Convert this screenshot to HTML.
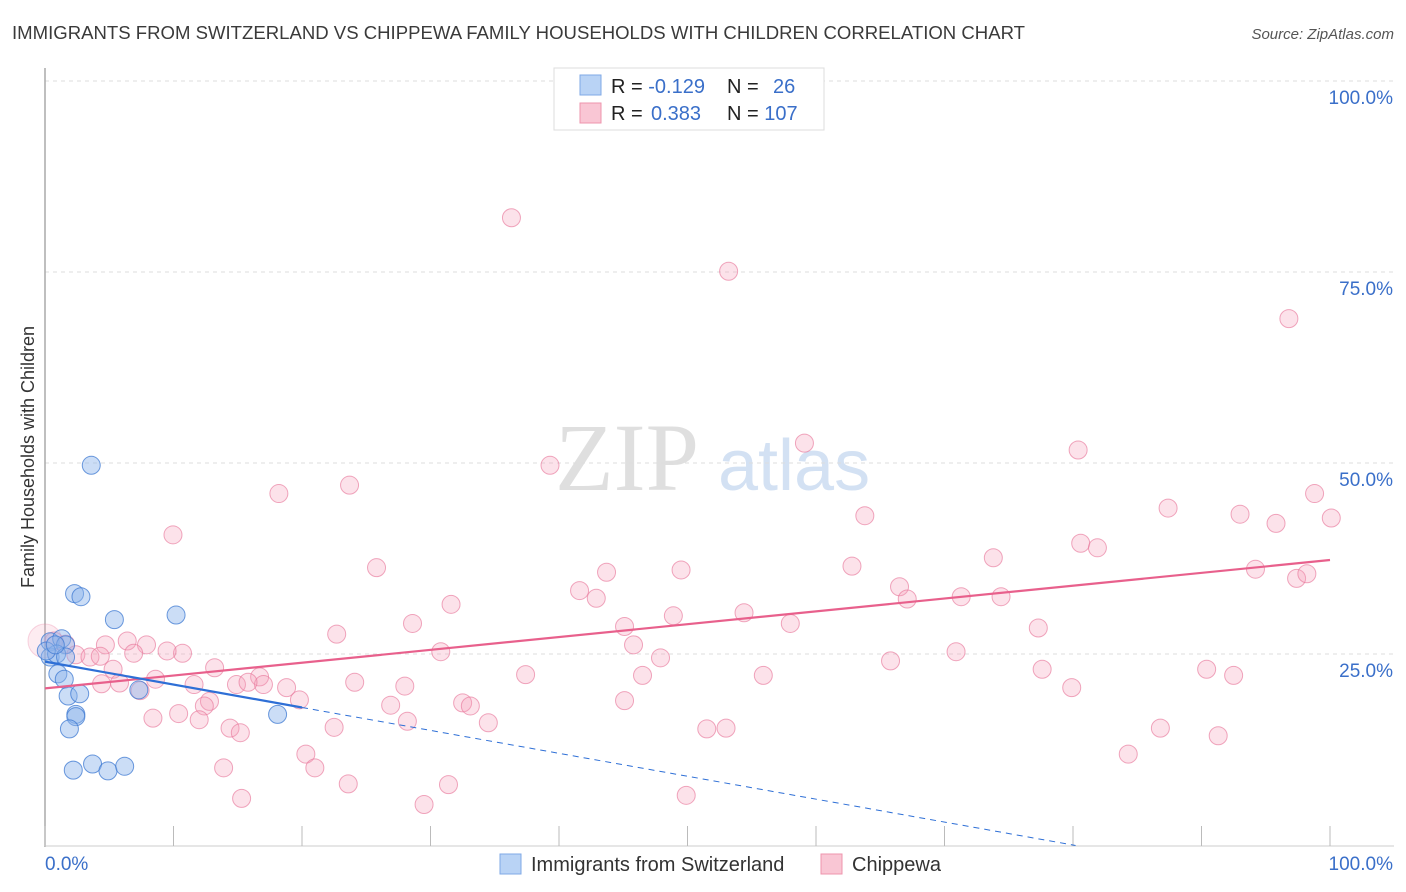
<!DOCTYPE html>
<html><head><meta charset="utf-8"><style>
body{margin:0;background:#fff;font-family:"Liberation Sans",sans-serif;}
svg{display:block}
</style></head><body>
<svg id="chart" width="1406" height="892" xmlns="http://www.w3.org/2000/svg" font-family="Liberation Sans, sans-serif">
<text x="12" y="39" font-size="18" fill="#3a3a3a" textLength="1013" lengthAdjust="spacingAndGlyphs">IMMIGRANTS FROM SWITZERLAND VS CHIPPEWA FAMILY HOUSEHOLDS WITH CHILDREN CORRELATION CHART</text>
<text x="1394" y="39" font-size="15" fill="#555" font-style="italic" text-anchor="end">Source: ZipAtlas.com</text>
<g opacity="0.5">
<text x="555" y="490" font-size="96" font-family="Liberation Serif, serif" fill="#c0c0c0">ZIP</text>
<text x="718" y="490" font-size="72" fill="#a9c4e8">atlas</text>
</g>
<g id="grid"></g>
<g id="axes"></g>
<g id="pts"></g>
<g id="trends"></g>
<g>
<rect x="554" y="68" width="270" height="62" fill="#fff" stroke="#ddd"/>
<rect x="580" y="75" width="21" height="20" fill="#b9d3f5" stroke="#7fa8e6"/>
<rect x="580" y="103" width="21" height="20" fill="#f9c6d4" stroke="#ee94ad"/>
<text x="611" y="93" font-size="20" fill="#222">R = <tspan fill="#3a6fc9">-0.129</tspan></text>
<text x="727" y="93" font-size="20" fill="#222">N = <tspan fill="#3a6fc9" x="773">26</tspan></text>
<text x="611" y="120" font-size="20" fill="#222">R = <tspan fill="#3a6fc9" x="651">0.383</tspan></text>
<text x="727" y="120" font-size="20" fill="#222">N = <tspan fill="#3a6fc9">107</tspan></text>
</g>
<g>
<rect x="500" y="854" width="21" height="20" fill="#b9d3f5" stroke="#7fa8e6"/>
<text x="531" y="871" font-size="20" fill="#333">Immigrants from Switzerland</text>
<rect x="821" y="854" width="21" height="20" fill="#f9c6d4" stroke="#ee94ad"/>
<text x="852" y="871" font-size="20" fill="#333">Chippewa</text>
</g>
<text transform="translate(34,457) rotate(-90)" font-size="18" fill="#333" text-anchor="middle">Family Households with Children</text>
</svg>
<script>
const yTicks=[25,50,75,100];
const yTickLabels=["25.0%","50.0%","75.0%","100.0%"];
const xTickVals=[0,10,20,30,40,50,60,70,80,90,100];
const blueX=[3.6,2.3,2.8,5.4,10.2,0.4,1.3,1.6,0.4,0.9,1.6,1,1.5,1.8,2.7,2.4,2.4,1.9,2.2,3.7,4.9,6.2,7.3,18.1,0.1,0.8];
const blueY=[49.7,32.9,32.5,29.5,30.1,26.6,27,26.2,24.6,25,24.6,22.4,21.7,19.5,19.8,17.1,16.8,15.2,9.8,10.6,9.7,10.3,20.3,17.1,25.4,26.2];
const pinkX=[36.3,53.2,96.8,59.1,80.4,39.3,18.2,23.7,98.8,9.96,63.8,87.4,93,95.8,100.1,80.6,81.9,73.8,25.8,43.7,49.5,62.8,94.2,97.4,98.2,41.6,42.9,66.5,67.1,71.3,74.4,31.6,54.4,48.9,28.6,45.1,58,22.7,77.3,6.4,7.9,4.7,45.8,30.8,70.9,1.6,2.4,3.5,10.7,9.5,6.9,4.3,0.7,0,47.9,65.8,13.2,5.3,37.4,46.5,55.9,77.6,90.4,92.5,8.6,16.7,17,11.6,14.9,15.8,24.1,4.4,5.8,7.4,18.8,28,79.9,19.8,12.8,12.4,26.9,32.5,33.1,45.1,8.4,10.4,12,28.2,34.5,22.5,14.4,15.2,51.5,53,86.8,91.3,20.3,84.3,13.9,21,23.6,31.4,15.3,29.5,49.9];
const pinkY=[82.1,75.1,68.9,52.6,51.7,49.7,46,47.1,46,40.6,43.1,44.1,43.3,42.1,42.8,39.5,38.9,37.6,36.3,35.7,36,36.5,36.1,34.9,35.5,33.3,32.3,33.8,32.2,32.5,32.5,31.5,30.4,30,29,28.6,29,27.6,28.4,26.7,26.2,26.2,26.2,25.3,25.3,26.3,24.9,24.6,25.1,25.4,25.1,24.7,26.7,26.7,24.5,24.1,23.2,23,22.3,22.2,22.2,23,23,22.2,21.7,22,21,21,21,21.3,21.3,21.1,21.2,20.2,20.6,20.8,20.6,19,18.8,18.2,18.3,18.6,18.2,18.9,16.6,17.2,16.4,16.2,16,15.4,15.3,14.7,15.2,15.3,15.3,14.3,11.9,11.9,10.1,10.1,8,7.9,6.1,5.3,6.5];
const blueTrend=[24.0,-0.3];   // intercept, slope
const pinkTrend=[20.5,0.168];
const blueSolidEnd=20, blueDashEnd=80.2;
const NS="http://www.w3.org/2000/svg";
const X=v=>45+v*12.85, Y=v=>845-v*7.64;
function mk(tag,attrs,parent){const e=document.createElementNS(NS,tag);for(const k in attrs)e.setAttribute(k,attrs[k]);parent.appendChild(e);return e;}
const grid=document.getElementById('grid'),axes=document.getElementById('axes'),pts=document.getElementById('pts'),tr=document.getElementById('trends');
yTicks.forEach((t,i)=>{
 const l=mk('line',{x1:45,x2:1394,y1:Y(t),y2:Y(t),stroke:'#ddd','stroke-dasharray':'4,4'},grid);
 
 
 const tx=mk('text',{x:1393,y:Y(t)+23,'font-size':19,fill:'#3a6fc9','text-anchor':'end'},axes);
 tx.textContent=yTickLabels[i];
 
 
});
const ax=mk('line',{x1:45,x2:45,y1:68,y2:847,stroke:'#aaa','stroke-width':1.5},axes);


const bx=mk('line',{x1:45,x2:1394,y1:846,y2:846,stroke:'#ccc'},axes);


xTickVals.forEach(v=>{
 const t=mk('line',{x1:X(v),x2:X(v),y1:826,y2:846,stroke:'#bbb'},axes);
 
 
});
const xl0=mk('text',{x:45,y:870,'font-size':19,fill:'#3a6fc9'},axes);xl0.textContent='0.0%';


const xl1=mk('text',{x:1393,y:870,'font-size':19,fill:'#3a6fc9','text-anchor':'end'},axes);xl1.textContent='100.0%';


pinkX.forEach((x,i)=>{
 const big=(i==53);
 const c=mk('circle',{cx:X(x),cy:Y(pinkY[i]),r:(big?17:9),fill:big?'rgba(245,160,185,0.2)':'rgba(245,160,185,0.3)',stroke:big?'rgba(232,120,155,0.3)':'rgba(232,120,155,0.65)','stroke-width':1},pts);
 
 
});
blueX.forEach((x,i)=>{
 const c=mk('circle',{cx:X(x),cy:Y(blueY[i]),r:9,fill:'rgba(140,180,235,0.45)',stroke:'rgba(60,120,210,0.75)','stroke-width':1},pts);
 
 
});
const f=(t,x)=>t[0]+t[1]*x;
const pl=mk('line',{x1:X(0),y1:Y(f(pinkTrend,0)),x2:X(100),y2:Y(f(pinkTrend,100)),stroke:'#e8608c','stroke-width':2.2},tr);


const bl=mk('line',{x1:X(0),y1:Y(f(blueTrend,0)),x2:X(blueSolidEnd),y2:Y(f(blueTrend,blueSolidEnd)),stroke:'#2e6fd6','stroke-width':2.2},tr);


const bd=mk('line',{x1:X(blueSolidEnd),y1:Y(f(blueTrend,blueSolidEnd)),x2:X(blueDashEnd),y2:Y(f(blueTrend,blueDashEnd)),stroke:'#2e6fd6','stroke-width':1,'stroke-dasharray':'6,5'},tr);


</script>
</body></html>
